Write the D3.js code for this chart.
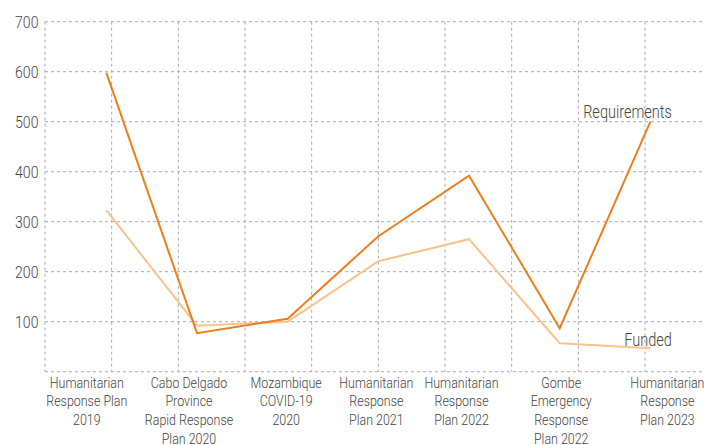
<!DOCTYPE html>
<html>
<head>
    <meta charset="UTF-8">
    <title>Requirements vs Funded</title>
    <style>
        body {
            margin: 0;
            background-color: white;
            overflow: hidden;
        }
        svg {
            display: block;
            font-family: Roboto, "Noto Sans", sans-serif;
        }
        .grid line {
            stroke: #aaa;
            stroke-width: 1px;
            stroke-dasharray: 3,3;
        }
        .lbl {
            fill: #444;
            font-weight: 300;
        }
    </style>
</head>
<body>
    <svg id="chart"></svg>

    <script src="https://d3js.org/d3.v7.min.js"></script>
    <script>
        // Appeal names (one array entry per wrapped line)
        var categories = [
            ["Humanitarian", "Response Plan", "2019"],
            ["Cabo Delgado", "Province", "Rapid Response", "Plan 2020"],
            ["Mozambique", "COVID-19", "2020"],
            ["Humanitarian", "Response", "Plan 2021"],
            ["Humanitarian", "Response", "Plan 2022"],
            ["Gombe", "Emergency", "Response", "Plan 2022"],
            ["Humanitarian", "Response", "Plan 2023"]
        ];
        var requirements = [598, 77, 106, 271, 392, 87, 500];
        var funded = [323, 92, 100, 221, 265, 57, 47];
        var yTicks = [100, 200, 300, 400, 500, 600, 700];

        var width = 720, height = 445;
        var plotLeft = 45, plotRight = 711.7, plotTop = 21.7, plotBottom = 371.7;
        var squeeze = 0.83; // narrow face look
        // the source chart's labels don't sit exactly under their points
        var labelNudge = [-19.5, -8, -1.5, -2, -7.5, 1.5, 17];

        var svg = d3.select("#chart")
            .attr("width", width)
            .attr("height", height);

        var x = d3.scalePoint()
            .domain(d3.range(categories.length))
            .range([plotLeft, plotRight])
            .padding(0.676);

        var y = d3.scaleLinear()
            .domain([0, 700])
            .range([plotBottom, plotTop]);

        // background grid: regular vertical lines, horizontal at every hundred
        var gx = d3.scaleLinear().domain([0, 10]).range([plotLeft, plotRight]);
        var grid = svg.append("g").attr("class", "grid");
        grid.selectAll("line.v")
            .data(gx.ticks(10))
            .enter().append("line")
            .attr("class", "v")
            .attr("x1", function(d) { return gx(d); })
            .attr("x2", function(d) { return gx(d); })
            .attr("y1", plotTop)
            .attr("y2", plotBottom);
        grid.selectAll("line.h")
            .data([0].concat(yTicks))
            .enter().append("line")
            .attr("class", "h")
            .attr("x1", plotLeft)
            .attr("x2", plotRight)
            .attr("y1", function(d) { return y(d); })
            .attr("y2", function(d) { return y(d); });

        function squeezed(sel, xf, yf) {
            sel.attr("transform", function(d, i) {
                return "translate(" + xf(d, i) + "," + yf(d, i) + ") scale(" + squeeze + ",1)";
            });
        }

        // y tick labels
        svg.append("g").selectAll("text")
            .data(yTicks)
            .enter().append("text")
            .attr("class", "lbl")
            .attr("text-anchor", "end")
            .attr("font-size", 17)
            .attr("dy", "0.35em")
            .text(function(d) { return d; })
            .call(squeezed, function() { return 38.5; }, function(d) { return y(d); });

        // x category labels
        var cat = svg.append("g").selectAll("text")
            .data(categories)
            .enter().append("text")
            .attr("class", "lbl")
            .attr("text-anchor", "middle")
            .attr("font-size", 15)
            .call(squeezed, function(d, i) { return x(i) + labelNudge[i]; },
                  function() { return 387.5; });
        cat.selectAll("tspan")
            .data(function(d) { return d; })
            .enter().append("tspan")
            .attr("x", 0)
            .attr("dy", function(d, i) { return i === 0 ? 0 : 19; })
            .text(function(d) { return d; });

        var line = d3.line()
            .x(function(d, i) { return x(i); })
            .y(function(d) { return y(d); });

        svg.append("path")
            .datum(funded)
            .attr("fill", "none")
            .attr("stroke", "#FAC38E")
            .attr("stroke-width", 2)
            .attr("d", line);

        svg.append("path")
            .datum(requirements)
            .attr("fill", "none")
            .attr("stroke", "#EC7E1E")
            .attr("stroke-width", 2)
            .attr("d", line);

        // series labels near the last point
        var last = categories.length - 1;
        var series = [
            { name: "Requirements", value: requirements[last], dy: -4 },
            { name: "Funded", value: funded[last], dy: -2.5 }
        ];
        svg.append("g").selectAll("text")
            .data(series)
            .enter().append("text")
            .attr("class", "lbl")
            .attr("text-anchor", "end")
            .attr("font-size", 17.5)
            .text(function(d) { return d.name; })
            .call(squeezed, function() { return x(last) + 21.5; },
                  function(d) { return y(d.value) + d.dy; });
    </script>
</body>
</html>
